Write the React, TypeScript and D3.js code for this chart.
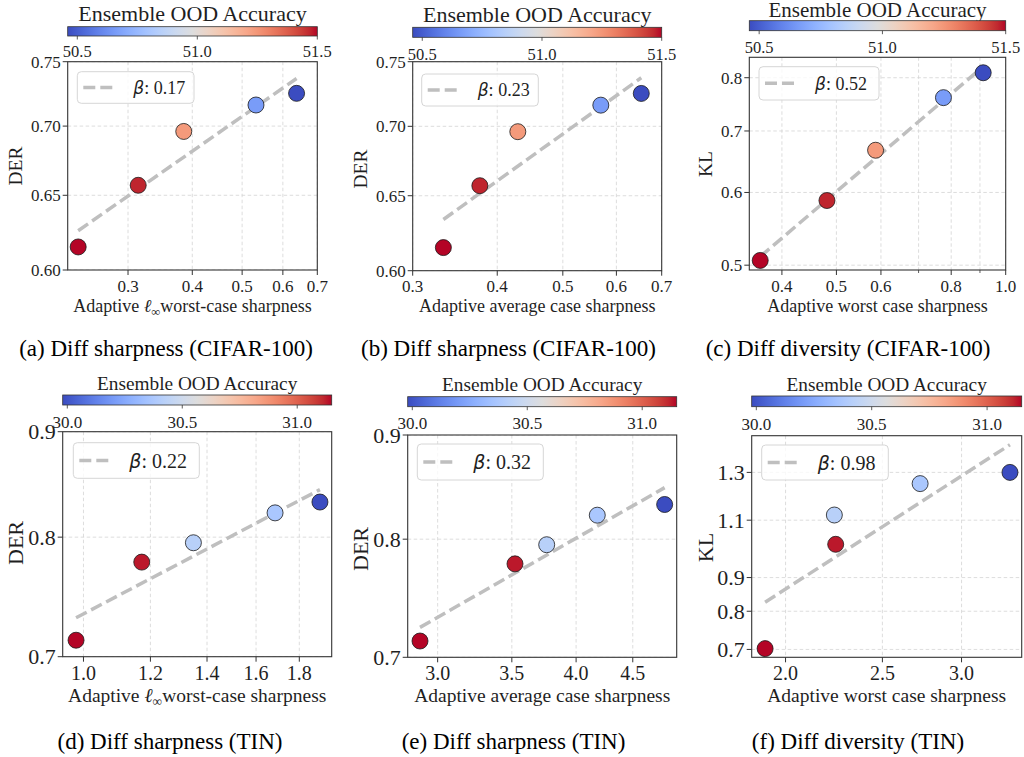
import React from "react";
import * as d3 from "d3";

// ---------------- data ----------------
const cifarAccuracy = [51.5, 51.47, 51.24, 50.66, 50.46];
const cifarDER = [0.615, 0.657, 0.696, 0.716, 0.725];
const cifarKL = [0.506, 0.588, 0.667, 0.761, 0.81];
const cifarLinfSharpness = [0.24, 0.314, 0.385, 0.532, 0.638];
const cifarAvgSharpness = [0.333, 0.377, 0.429, 0.569, 0.653];
const cifarWorstSharpness = [0.366, 0.481, 0.587, 0.775, 0.912];

const tinAccuracy = [31.15, 31.13, 30.42, 30.37, 29.98];
const tinDER = [0.713, 0.778, 0.795, 0.822, 0.832];
const tinKL = [0.702, 1.011, 1.12, 1.25, 1.3];
const tinLinfSharpness = [0.98, 1.172, 1.349, 1.685, 1.904];
const tinAvgSharpness = [2.892, 3.523, 3.763, 4.18, 4.808];
const tinWorstSharpness = [1.908, 2.245, 2.238, 2.727, 3.354];

const betaLabels = ["0.17", "0.23", "0.52", "0.22", "0.32", "0.98"];
const captions = [
  "(a) Diff sharpness (CIFAR-100)",
  "(b) Diff sharpness (CIFAR-100)",
  "(c) Diff diversity (CIFAR-100)",
  "(d) Diff sharpness (TIN)",
  "(e) Diff sharpness (TIN)",
  "(f) Diff diversity (TIN)",
];
const yLabels = ["DER", "DER", "KL", "DER", "DER", "KL"];
const xLabels = [
  "linf",
  "Adaptive average case sharpness",
  "Adaptive worst case sharpness",
  "linf",
  "Adaptive average case sharpness",
  "Adaptive worst case sharpness",
];
const colorbarTitle = "Ensemble OOD Accuracy";

const xDomains = [
  [0.229, 0.7],
  [0.3, 0.7],
  [0.35, 1.0],
  [0.945, 1.966],
  [2.819, 4.93],
  [1.85, 3.446],
];
const yDomains = [
  [0.6, 0.75],
  [0.6, 0.75],
  [0.494, 0.842],
  [0.7, 0.9],
  [0.7, 0.9],
  [0.681, 1.478],
];
const xTicks = [
  [0.3, 0.4, 0.5, 0.6, 0.7],
  [0.3, 0.4, 0.5, 0.6, 0.7],
  [0.4, 0.5, 0.6, 0.8, 1.0],
  [1.0, 1.2, 1.4, 1.6, 1.8],
  [3.0, 3.5, 4.0, 4.5],
  [2.0, 2.5, 3.0],
];
const xMinorTicks = [[], [], [0.7, 0.9], [], [], []];
const yTicks = [
  [0.6, 0.65, 0.7, 0.75],
  [0.6, 0.65, 0.7, 0.75],
  [0.5, 0.6, 0.7, 0.8],
  [0.7, 0.8, 0.9],
  [0.7, 0.8, 0.9],
  [0.7, 0.8, 0.9, 1.1, 1.3],
];
const yTickDecimals = [2, 2, 1, 1, 1, 1];
const cifarColorRange = [50.46, 51.5];
const tinColorRange = [29.98, 31.15];
const cifarColorTicks = [50.5, 51.0, 51.5];
const tinColorTicks = [30.0, 30.5, 31.0];

const panelX = [cifarLinfSharpness, cifarAvgSharpness, cifarWorstSharpness, tinLinfSharpness, tinAvgSharpness, tinWorstSharpness];
const panelY = [cifarDER, cifarDER, cifarKL, tinDER, tinDER, tinKL];
const panelAcc = [cifarAccuracy, cifarAccuracy, cifarAccuracy, tinAccuracy, tinAccuracy, tinAccuracy];
const panelColorRange = [cifarColorRange, cifarColorRange, cifarColorRange, tinColorRange, tinColorRange, tinColorRange];
const panelColorTicks = [cifarColorTicks, cifarColorTicks, cifarColorTicks, tinColorTicks, tinColorTicks, tinColorTicks];

// ---------------- layout (positions, not data) ----------------
type Fs = { ytick: number; xtick: number; xlab: number; ylab: number; title: number; cbtick: number; legend: number };
type Layout = {
  ax: [number, number, number, number];
  cb: [number, number];
  titleY: number;
  cbTickY: number;
  legend: [number, number, number, number];
  ylab: [number, number];
  xtickY: number;
  xlabY: number;
  cap: [number, number];
  fs: Fs;
};
const topFs: Fs = { ytick: 17, xtick: 17, xlab: 18, ylab: 19.5, title: 22, cbtick: 16.5, legend: 18 };
const topFsC: Fs = { ...topFs, title: 21 };
const botFs: Fs = { ytick: 22, xtick: 20, xlab: 19.5, ylab: 22, title: 19.3, cbtick: 17, legend: 20 };
const layouts: Layout[] = [
  { ax: [67.7, 61.7, 317.3, 270], cb: [26.7, 36], titleY: 20.5, cbTickY: 57, legend: [77.3, 71.7, 116.7, 31.6], ylab: [15, 166], xtickY: 291.5, xlabY: 312, cap: [166, 356], fs: topFs },
  { ax: [412.7, 61.7, 661.7, 270.7], cb: [27.3, 37.3], titleY: 21.7, cbTickY: 60, legend: [421.7, 74, 116.6, 32], ylab: [360, 169], xtickY: 291.5, xlabY: 312, cap: [508.5, 356], fs: topFs },
  { ax: [749.3, 57.3, 1005.7, 270], cb: [20.7, 30.7], titleY: 17, cbTickY: 53, legend: [759, 66.7, 120, 33.3], ylab: [705, 164], xtickY: 291.5, xlabY: 312, cap: [848, 356], fs: topFsC },
  { ax: [62.7, 431.7, 331.7, 656.7], cb: [395, 405], titleY: 389.5, cbTickY: 428, legend: [73.3, 442.7, 126, 35.6], ylab: [15, 543], xtickY: 680, xlabY: 702, cap: [170, 749.3], fs: botFs },
  { ax: [407.7, 435, 676.7, 657.3], cb: [396.7, 406.7], titleY: 390.7, cbTickY: 429, legend: [417.3, 444, 126, 36], ylab: [360, 549], xtickY: 680, xlabY: 702, cap: [513.5, 749.3], fs: botFs },
  { ax: [751.7, 435.7, 1021.7, 657.3], cb: [396, 406.7], titleY: 390.7, cbTickY: 430, legend: [761.7, 445, 126.6, 35], ylab: [705, 547.5], xtickY: 680, xlabY: 702, cap: [858, 749.3], fs: botFs },
];

const SERIF = '"Liberation Serif", "Times New Roman", Times, serif';
const INK = "#1f1f1f";

// matplotlib "coolwarm" (Moreland) control colours
const COOLWARM = [
  "#3b4cc0", "#445acc", "#4d68d7", "#5775e1", "#6282ea", "#6c8ef1", "#779af7", "#82a5fb",
  "#8db0fe", "#98b9ff", "#a3c2ff", "#aec9fd", "#b8d0f9", "#c2d5f4", "#ccd9ee", "#d5dbe6",
  "#dddddd", "#e5d8d1", "#ecd3c5", "#f1ccb8", "#f5c4ac", "#f7bba0", "#f7b194", "#f7a689",
  "#f49a7b", "#f18d6f", "#ec7f63", "#e57058", "#de604d", "#d55042", "#cb3e38", "#c0282f", "#b40426",
];
const coolwarm = d3.piecewise(d3.interpolateRgb, COOLWARM);

function fmt(v: number, d: number) {
  return v.toFixed(d);
}

function XLabel({ kind, x, y, fs }: { kind: string; x: number; y: number; fs: number }) {
  if (kind === "linf") {
    return (
      <text x={x} y={y} textAnchor="middle" fontFamily={SERIF} fontSize={fs} fill={INK}>
        Adaptive <tspan fontStyle="italic">ℓ</tspan>
        <tspan fontSize={fs * 0.7} dy={fs * 0.22}>∞</tspan>
        <tspan dy={-fs * 0.22}>worst-case sharpness</tspan>
      </text>
    );
  }
  return (
    <text x={x} y={y} textAnchor="middle" fontFamily={SERIF} fontSize={fs} fill={INK}>
      {kind}
    </text>
  );
}

function Panel({ i }: { i: number }) {
  const L = layouts[i];
  const [l, t, r, b] = L.ax;
  const xs = d3.scaleLog().domain(xDomains[i]).range([l, r]);
  const ys = d3.scaleLog().domain(yDomains[i]).range([b, t]);
  const cr = panelColorRange[i];
  const cs = d3.scaleLinear().domain(cr).range([l, r]);
  const norm = d3.scaleLinear().domain(cr).range([0, 1]).clamp(true);
  const X = panelX[i];
  const Y = panelY[i];
  const A = panelAcc[i];

  // least-squares fit in log-log space
  const lx = X.map(Math.log);
  const ly = Y.map(Math.log);
  const mx = d3.mean(lx)!;
  const my = d3.mean(ly)!;
  const sxy = d3.sum(lx, (v, k) => (v - mx) * (ly[k] - my));
  const sxx = d3.sum(lx, (v) => (v - mx) * (v - mx));
  const slope = sxy / sxx;
  const icpt = my - slope * mx;
  const [x0, x1] = d3.extent(X) as [number, number];
  const fitPts: [number, number][] = [x0, x1].map((v) => [v, Math.exp(icpt + slope * Math.log(v))]);
  const line = d3.line<[number, number]>().x((d) => xs(d[0])).y((d) => ys(d[1]));

  const gradId = `cw${i}`;
  const clipId = `clip${i}`;
  const fs = L.fs;
  const [lgx, lgy, lgw, lgh] = L.legend;
  const lgc = lgy + lgh / 2;
  const allX = [...xTicks[i], ...xMinorTicks[i]];

  return (
    <g>
      <defs>
        <linearGradient id={gradId} x1="0" x2="1" y1="0" y2="0">
          {COOLWARM.map((c, k) => (
            <stop key={k} offset={k / (COOLWARM.length - 1)} stopColor={c} />
          ))}
        </linearGradient>
        <clipPath id={clipId}>
          <rect x={l} y={t} width={r - l} height={b - t} />
        </clipPath>
      </defs>

      {/* colorbar */}
      <text x={(l + r) / 2} y={L.titleY} textAnchor="middle" fontFamily={SERIF} fontSize={fs.title} fill={INK}>
        {colorbarTitle}
      </text>
      <rect x={l} y={L.cb[0]} width={r - l} height={L.cb[1] - L.cb[0]} fill={`url(#${gradId})`} stroke="#333" strokeWidth={0.8} />
      {panelColorTicks[i].map((v) => (
        <g key={v}>
          <line x1={cs(v)} x2={cs(v)} y1={L.cb[1]} y2={L.cb[1] + 3.5} stroke="#333" strokeWidth={0.8} />
          <text x={cs(v)} y={L.cbTickY} textAnchor="middle" fontFamily={SERIF} fontSize={fs.cbtick} fill={INK}>
            {fmt(v, 1)}
          </text>
        </g>
      ))}

      {/* grid */}
      <g clipPath={`url(#${clipId})`}>
        {allX.map((v) => (
          <line key={"gx" + v} x1={xs(v)} x2={xs(v)} y1={t} y2={b} stroke="#d4d4d4" strokeWidth={0.8} strokeDasharray="3.5 2.5" />
        ))}
        {yTicks[i].map((v) => (
          <line key={"gy" + v} x1={l} x2={r} y1={ys(v)} y2={ys(v)} stroke="#d4d4d4" strokeWidth={0.8} strokeDasharray="3.5 2.5" />
        ))}
        <path d={line(fitPts)!} fill="none" stroke="#bfbfbf" strokeWidth={3.5} strokeDasharray="12 5" />
        {X.map((v, k) => (
          <circle key={k} cx={xs(v)} cy={ys(Y[k])} r={8} fill={coolwarm(norm(A[k]))} stroke="#1a1a1a" strokeWidth={0.8} />
        ))}
      </g>

      {/* legend */}
      <rect x={lgx} y={lgy} width={lgw} height={lgh} rx={4} fill="#fff" fillOpacity={0.8} stroke="#d6d6d6" strokeWidth={1} />
      <line x1={lgx + 6} x2={lgx + 35} y1={lgc} y2={lgc} stroke="#bfbfbf" strokeWidth={3.5} strokeDasharray="12 5" />
      <text x={lgx + 56} y={lgc} dy="0.35em" fontFamily={SERIF} fontSize={fs.legend} fill={INK}>
        <tspan fontFamily='"DejaVu Sans", sans-serif' fontStyle="italic" fontSize={fs.legend * 0.95}>β</tspan>: {betaLabels[i]}
      </text>

      {/* spines */}
      <rect x={l} y={t} width={r - l} height={b - t} fill="none" stroke="#333" strokeWidth={1.1} />

      {/* x ticks */}
      {xTicks[i].map((v) => (
        <g key={"xt" + v}>
          <line x1={xs(v)} x2={xs(v)} y1={b} y2={b + 5} stroke="#333" strokeWidth={1} />
          <text x={xs(v)} y={L.xtickY} textAnchor="middle" fontFamily={SERIF} fontSize={fs.xtick} fill={INK}>
            {fmt(v, 1)}
          </text>
        </g>
      ))}
      {xMinorTicks[i].map((v) => (
        <line key={"xm" + v} x1={xs(v)} x2={xs(v)} y1={b} y2={b + 3} stroke="#333" strokeWidth={0.8} />
      ))}

      {/* y ticks */}
      {yTicks[i].map((v) => (
        <g key={"yt" + v}>
          <line x1={l - 5} x2={l} y1={ys(v)} y2={ys(v)} stroke="#333" strokeWidth={1} />
          <text x={l - 7} y={ys(v)} dy="0.35em" textAnchor="end" fontFamily={SERIF} fontSize={fs.ytick} fill={INK}>
            {fmt(v, yTickDecimals[i])}
          </text>
        </g>
      ))}

      {/* axis labels */}
      <XLabel kind={xLabels[i]} x={(l + r) / 2} y={L.xlabY} fs={fs.xlab} />
      <text
        transform={`translate(${L.ylab[0]},${L.ylab[1]}) rotate(-90)`}
        textAnchor="middle"
        dy="0.35em"
        fontFamily={SERIF}
        fontSize={fs.ylab}
        fill={INK}
      >
        {yLabels[i]}
      </text>

      {/* caption */}
      <text x={L.cap[0]} y={L.cap[1]} textAnchor="middle" fontFamily={SERIF} fontSize={23} fill="#000">
        {captions[i]}
      </text>
    </g>
  );
}

export default function App() {
  return (
    <svg width={1024} height={757} style={{ position: "absolute", left: 0, top: 0, background: "#fff" }}>
      <rect width={1024} height={757} fill="#fff" />
      {layouts.map((_, i) => (
        <Panel key={i} i={i} />
      ))}
    </svg>
  );
}
